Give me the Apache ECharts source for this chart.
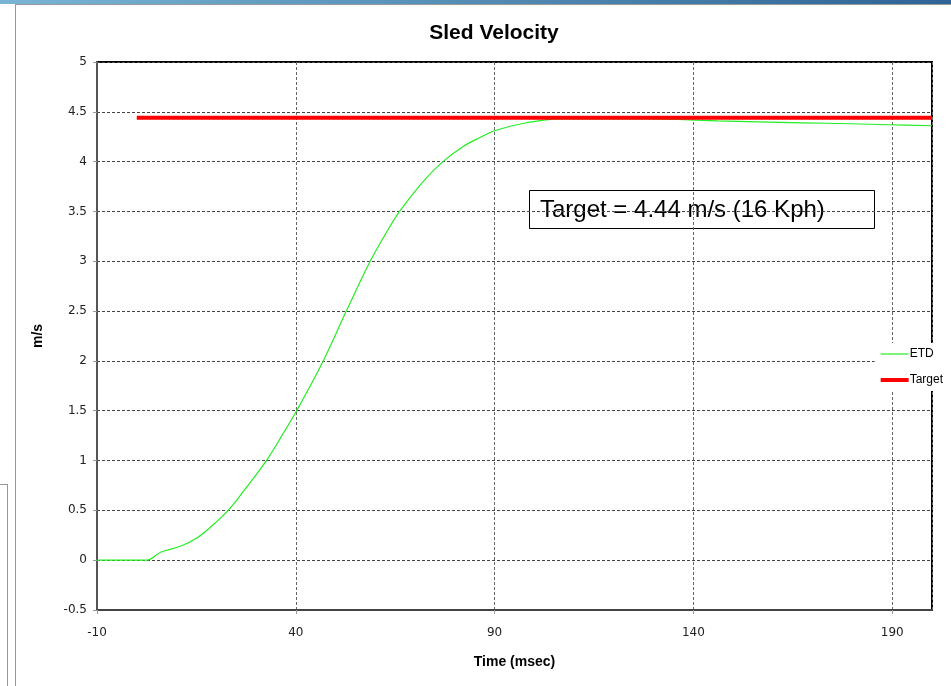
<!DOCTYPE html>
<html>
<head>
<meta charset="utf-8">
<script src="https://cdn.jsdelivr.net/npm/echarts@6/dist/echarts.min.js"></script>
<style>
html,body{margin:0;padding:0;background:#fff;}
#chart{width:951px;height:686px;}
</style>
</head>
<body>
<div id="chart"></div>
<script>
// ---- data ----
var chartTitle = 'Sled Velocity';
var xAxisName = 'Time (msec)';
var yAxisName = 'm/s';
var seriesNames = ['ETD', 'Target'];
var etdTime = [-10, 2.5, 6, 11, 15, 18.5, 23, 27, 32.6, 36.5, 40.2, 46.9, 52.7, 58.7, 62.5, 66.1, 72, 77, 82, 86.2, 90, 98, 106.3, 115, 129, 139, 146, 156.3, 167.4, 179.4, 189.2, 200];
var etdVelocity = [0, 0, 0.08, 0.14, 0.22, 0.33, 0.5, 0.7, 1.0, 1.25, 1.5, 2.0, 2.5, 3.0, 3.27, 3.5, 3.8, 4.0, 4.15, 4.24, 4.31, 4.39, 4.43, 4.43, 4.43, 4.42, 4.41, 4.40, 4.39, 4.38, 4.37, 4.36];
var targetTime = [0, 200];
var targetVelocity = [4.44, 4.44];
var annotationText = 'Target = 4.44 m/s (16 Kph)';

var sans = "'Liberation Sans', Arial, sans-serif";
var labelFont = "'DejaVu Sans', 'Noto Sans', sans-serif";

function pairs(xs, ys) { return xs.map(function (x, i) { return [x, ys[i]]; }); }

var chart = echarts.init(document.getElementById('chart'), null, { renderer: 'canvas' });
chart.setOption({
  backgroundColor: '#fff',
  animation: false,
  title: {
    text: chartTitle, left: 489, top: 18, textAlign: 'center',
    textStyle: { fontFamily: sans, fontWeight: 'bold', fontSize: 21, color: '#000' }
  },
  grid: { left: 97, top: 62, right: 19, bottom: 76, show: true, borderColor: '#000', borderWidth: 2, backgroundColor: 'transparent' },
  xAxis: {
    type: 'value', min: -10, max: 200, interval: 50,
    name: xAxisName, nameLocation: 'middle', nameGap: 45,
    nameTextStyle: { fontFamily: sans, fontWeight: 'bold', fontSize: 14, color: '#000' },
    axisLine: { show: true, onZero: false, lineStyle: { color: '#444', width: 2 } },
    axisTick: { show: true, length: 4, lineStyle: { color: '#999' } },
    axisLabel: { showMaxLabel: false, margin: 17, fontFamily: labelFont, fontSize: 12, color: '#222' },
    splitLine: { show: true, lineStyle: { color: '#666', type: [3, 2], width: 1 } }
  },
  yAxis: {
    type: 'value', min: -0.5, max: 5, interval: 0.5,
    name: yAxisName, nameLocation: 'middle', nameGap: 52, nameRotate: 90,
    nameTextStyle: { fontFamily: sans, fontWeight: 'bold', fontSize: 14, color: '#000' },
    axisLine: { show: true, onZero: false, lineStyle: { color: '#555', width: 2 } },
    axisTick: { show: true, length: 4, lineStyle: { color: '#999' } },
    axisLabel: { margin: 10, fontFamily: labelFont, fontSize: 12, color: '#222' },
    splitLine: { show: true, lineStyle: { color: '#444', type: [3, 2], width: 1 } }
  },
  legend: {
    data: [
      { name: seriesNames[0], icon: 'path://M0,0H28V1.2H0Z' },
      { name: seriesNames[1], icon: 'path://M0,0H28V4H0Z' }
    ],
    orient: 'vertical', right: 6, top: 343,
    backgroundColor: '#fff', padding: [5, 2, 5, 6], itemWidth: 28, itemHeight: 8, itemGap: 14,
    textStyle: { fontFamily: sans, fontSize: 12, color: '#000', padding: [0, 0, 0, -4] }
  },
  series: [
    {
      name: seriesNames[0], type: 'line', data: pairs(etdTime, etdVelocity),
      smooth: 0.35, symbol: 'none', showSymbol: false,
      lineStyle: { color: '#22ee22', width: 1.2 }, itemStyle: { color: '#22ee22' }, z: 2
    },
    {
      name: seriesNames[1], type: 'line', data: pairs(targetTime, targetVelocity),
      symbol: 'none', showSymbol: false,
      lineStyle: { color: '#ff0000', width: 4 }, itemStyle: { color: '#ff0000' }, z: 3
    }
  ],
  graphic: [
    { type: 'rect', shape: { x: 0, y: 0, width: 951, height: 4 }, style: { fill: new echarts.graphic.LinearGradient(0, 0, 1, 0, [{ offset: 0, color: '#7ab4d4' }, { offset: 1, color: '#2e6496' }]) }, z: 100 },
    { type: 'line', shape: { x1: 15, y1: 4.5, x2: 951, y2: 4.5 }, style: { stroke: '#999', lineWidth: 1 }, z: 100 },
    { type: 'line', shape: { x1: 15.5, y1: 4, x2: 15.5, y2: 686 }, style: { stroke: '#999', lineWidth: 1 }, z: 100 },
    { type: 'line', shape: { x1: 0, y1: 484.5, x2: 7.5, y2: 484.5 }, style: { stroke: '#999', lineWidth: 1 }, z: 100 },
    { type: 'line', shape: { x1: 7.5, y1: 484, x2: 7.5, y2: 686 }, style: { stroke: '#999', lineWidth: 1 }, z: 100 },
    {
      type: 'group', left: 529, top: 190, z: 50,
      children: [
        { type: 'rect', shape: { x: 0.5, y: 0.5, width: 345, height: 38 }, style: { fill: '#fff', stroke: '#000', lineWidth: 1 } },
        { type: 'text', x: 11, y: 20, style: { text: annotationText, font: "24px 'Liberation Sans', Arial, sans-serif", fill: '#000', verticalAlign: 'middle' } }
      ]
    }
  ]
});
</script>
</body>
</html>
